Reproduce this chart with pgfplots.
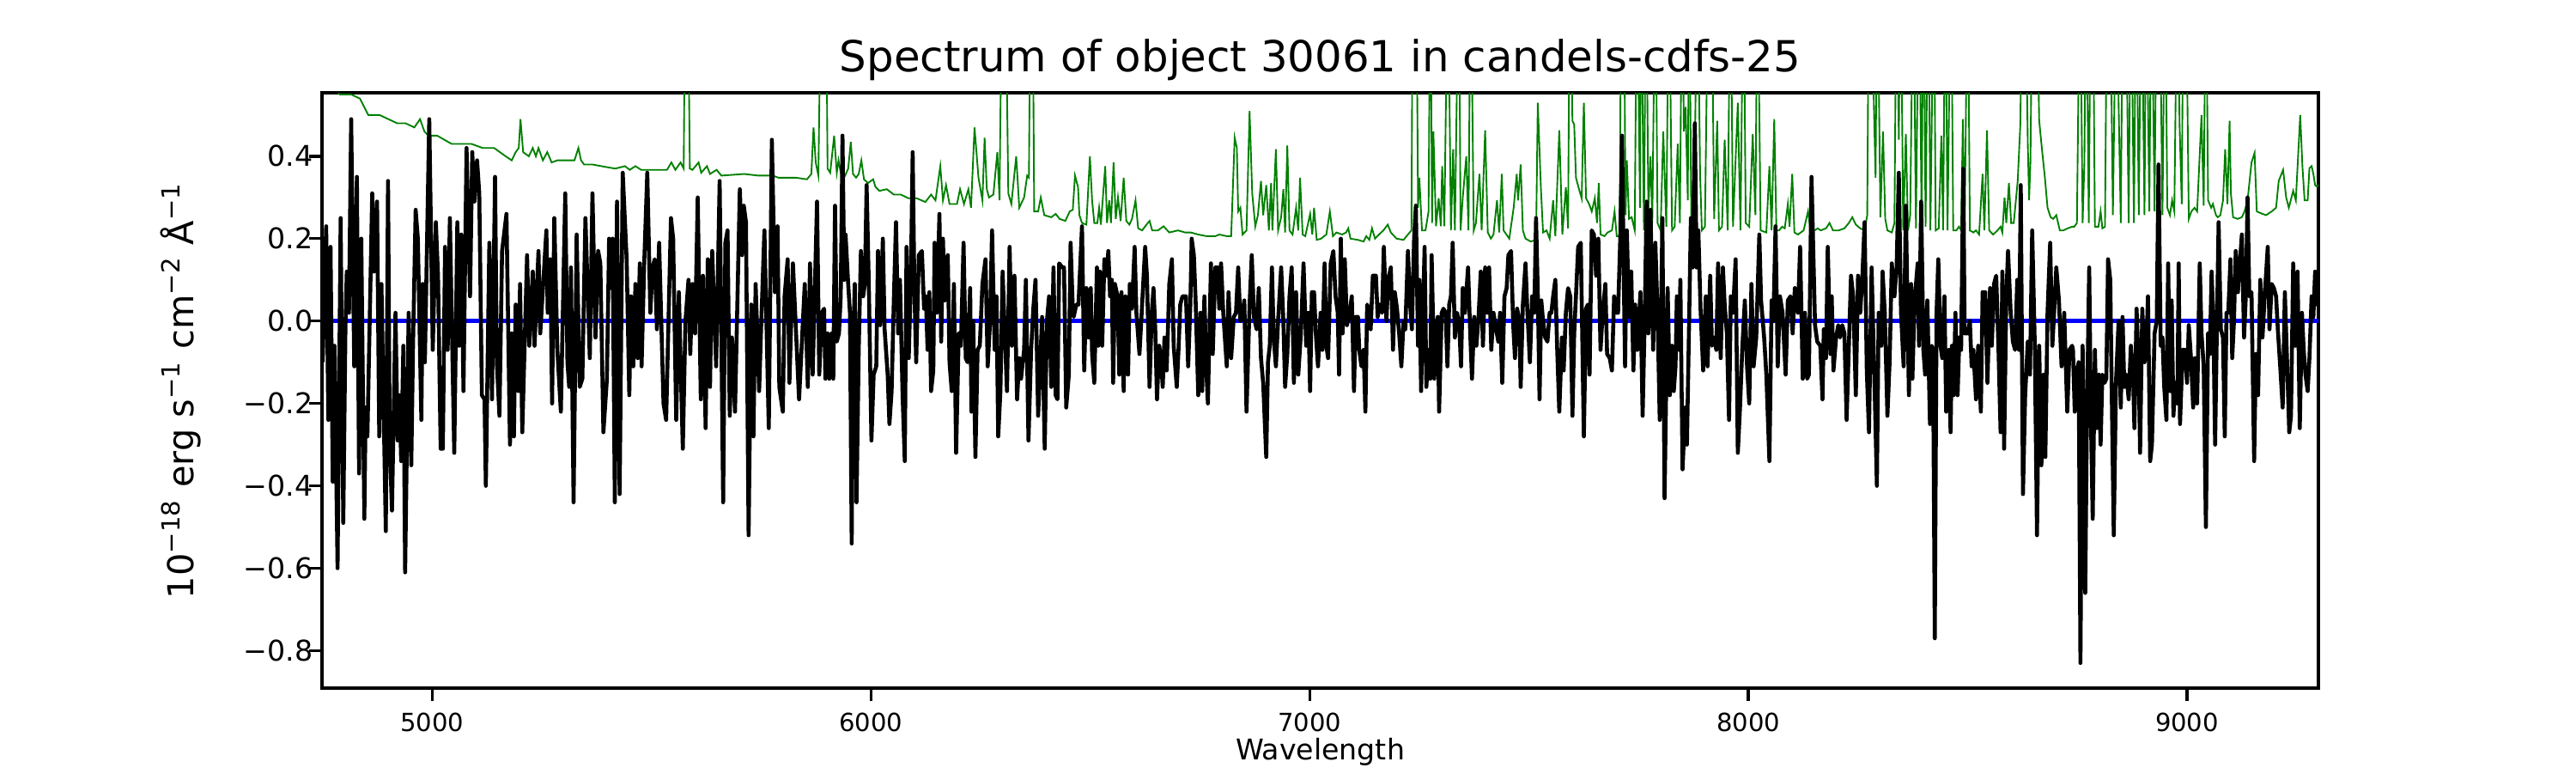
\documentclass[border=0pt]{standalone}
\usepackage{fontspec}
\setmainfont{DejaVu Sans}
\usepackage{pgfplots}
\pgfplotsset{compat=1.18}
\usepackage{pgfplotstable}
\definecolor{mplgreen}{HTML}{008000}
\definecolor{mplblue}{HTML}{0000FF}

\pgfplotstableread{
lam flux
4750 -0.10
4758 0.23
4763 -0.24
4768 0.18
4773 -0.39
4777 -0.06
4784 -0.60
4791 0.25
4797 -0.49
4802 -0.01
4805 0.12
4810 0.02
4815 0.49
4822 -0.11
4828 0.35
4833 -0.37
4838 0.20
4845 -0.48
4848 -0.21
4852 -0.28
4863 0.31
4867 0.12
4874 0.29
4879 -0.28
4884 0.09
4894 -0.51
4899 0.34
4903 -0.30
4908 -0.46
4916 0.02
4921 -0.29
4925 -0.18
4929 -0.34
4934 -0.06
4938 -0.61
4946 0.02
4952 -0.35
4956 -0.06
4962 0.27
4967 0.20
4975 -0.24
4978 0.09
4983 -0.10
4993 0.49
5001 -0.07
5008 0.24
5013 0.11
5019 -0.31
5024 -0.31
5029 0.18
5035 -0.07
5040 0.25
5050 -0.32
5057 0.24
5061 -0.06
5066 0.21
5071 -0.17
5078 0.42
5086 0.06
5091 0.41
5096 0.29
5102 0.39
5107 0.31
5113 -0.18
5119 -0.19
5122 -0.40
5130 0.19
5136 -0.19
5143 0.35
5147 -0.10
5153 -0.23
5159 0.17
5169 0.26
5177 -0.30
5181 -0.03
5186 -0.28
5190 0.04
5196 -0.17
5200 0.09
5205 -0.27
5216 0.16
5221 -0.06
5229 0.12
5233 -0.06
5242 0.17
5246 -0.03
5260 0.22
5263 0.02
5269 0.15
5273 -0.20
5278 0.25
5285 -0.07
5293 -0.22
5303 0.31
5308 -0.10
5312 -0.16
5316 0.13
5322 -0.44
5329 0.21
5336 -0.16
5342 -0.14
5349 0.25
5359 -0.09
5365 0.31
5372 -0.04
5378 0.17
5383 0.14
5390 -0.27
5398 -0.14
5403 0.20
5406 0.08
5411 0.20
5416 -0.44
5421 0.29
5427 -0.42
5434 0.36
5443 0.15
5449 -0.18
5453 0.06
5458 -0.11
5463 0.09
5468 -0.09
5473 0.14
5477 -0.11
5483 0.14
5490 0.36
5497 0.02
5502 0.13
5507 0.15
5512 -0.02
5517 0.19
5527 -0.20
5533 -0.24
5544 0.25
5549 0.20
5556 -0.24
5562 0.07
5571 -0.31
5577 0.00
5584 0.10
5588 -0.08
5593 0.09
5599 -0.03
5605 0.30
5612 -0.19
5617 0.11
5623 -0.26
5628 0.15
5633 -0.16
5638 0.17
5647 -0.11
5655 0.34
5663 -0.44
5668 0.19
5673 0.22
5678 -0.23
5683 -0.04
5690 -0.22
5701 0.32
5706 0.16
5710 0.28
5715 0.24
5721 -0.52
5727 0.04
5732 -0.28
5737 0.09
5745 -0.17
5750 0.00
5757 0.22
5767 -0.26
5774 0.44
5781 0.07
5787 0.23
5791 -0.16
5799 -0.22
5803 0.06
5810 0.15
5814 -0.15
5822 0.14
5836 -0.19
5849 0.09
5856 -0.16
5861 0.14
5867 -0.13
5877 0.29
5882 -0.13
5888 0.02
5893 0.03
5896 -0.14
5901 -0.03
5905 -0.14
5910 -0.03
5914 -0.14
5918 0.28
5922 -0.05
5927 -0.03
5931 0.06
5935 0.45
5939 0.10
5942 0.21
5948 0.09
5952 0.02
5956 -0.54
5959 -0.07
5963 0.09
5967 -0.44
5972 -0.07
5977 0.17
5982 0.06
5986 0.09
5990 0.33
5995 0.09
6001 -0.29
6006 -0.13
6012 -0.11
6016 0.17
6021 -0.01
6027 0.20
6031 -0.02
6038 -0.13
6042 -0.25
6047 -0.17
6052 0.05
6057 0.24
6062 -0.03
6066 0.10
6072 -0.18
6077 -0.34
6081 0.18
6086 -0.09
6091 0.11
6095 0.41
6099 0.07
6103 -0.10
6109 0.16
6116 0.17
6121 0.03
6125 0.06
6129 -0.07
6133 0.07
6137 -0.17
6142 -0.12
6145 0.19
6150 0.02
6156 0.26
6160 -0.05
6164 0.20
6168 0.05
6175 0.16
6179 -0.10
6184 -0.17
6189 0.09
6194 -0.32
6200 -0.03
6205 -0.06
6211 0.19
6216 -0.09
6220 -0.10
6226 0.08
6229 -0.22
6233 0.00
6238 -0.33
6243 -0.07
6248 -0.06
6254 0.09
6261 0.15
6266 -0.11
6271 -0.01
6276 0.22
6282 -0.07
6286 0.06
6290 -0.28
6295 -0.17
6300 0.12
6305 -0.03
6310 -0.17
6316 0.18
6321 -0.06
6327 0.11
6333 -0.19
6338 -0.09
6342 -0.14
6349 -0.07
6353 0.10
6359 -0.29
6365 -0.07
6370 0.03
6375 0.10
6381 -0.23
6390 0.01
6396 -0.31
6401 0.00
6406 0.06
6411 -0.16
6416 0.13
6421 -0.18
6425 -0.19
6429 0.14
6436 0.13
6440 0.13
6445 -0.21
6451 -0.13
6455 0.19
6460 0.03
6462 0.01
6468 0.04
6473 0.04
6481 0.23
6486 -0.12
6491 0.08
6496 -0.04
6501 0.08
6504 -0.08
6509 -0.15
6515 0.13
6518 -0.06
6522 0.12
6527 -0.06
6532 0.15
6537 0.11
6541 0.17
6545 0.06
6549 0.10
6552 -0.15
6556 0.09
6562 0.06
6566 -0.13
6571 0.07
6576 -0.17
6580 0.06
6586 -0.13
6590 0.09
6595 0.03
6601 0.18
6605 0.02
6612 -0.08
6618 0.04
6625 0.18
6629 0.11
6635 -0.16
6640 0.02
6644 0.08
6648 -0.02
6652 -0.19
6657 -0.06
6661 -0.09
6665 -0.16
6669 -0.04
6674 -0.12
6680 0.09
6686 0.15
6690 -0.06
6697 -0.16
6701 -0.07
6705 0.04
6710 0.06
6718 0.06
6723 -0.11
6728 0.04
6731 0.20
6736 0.16
6740 0.05
6746 -0.18
6751 0.02
6755 -0.17
6760 0.06
6764 -0.11
6768 -0.20
6775 0.14
6779 -0.08
6785 0.13
6790 0.13
6794 0.03
6798 0.14
6803 0.02
6811 -0.11
6815 0.07
6821 -0.09
6827 0.01
6832 0.02
6837 0.13
6842 0.00
6847 0.02
6851 0.05
6856 -0.22
6863 0.04
6868 0.16
6873 0.01
6879 -0.02
6884 0.08
6889 -0.09
6894 -0.15
6901 -0.33
6905 -0.10
6909 -0.06
6914 0.13
6918 -0.04
6923 -0.11
6928 0.00
6935 0.13
6940 0.00
6944 -0.16
6949 -0.08
6954 0.06
6959 0.13
6964 -0.15
6969 0.07
6974 -0.13
6980 -0.03
6986 0.14
6992 -0.06
6997 0.02
7001 -0.17
7005 0.07
7010 0.07
7014 -0.03
7019 -0.11
7025 0.02
7029 -0.07
7034 0.14
7038 -0.06
7042 -0.09
7048 0.14
7054 0.17
7059 0.06
7064 0.02
7067 -0.13
7071 0.20
7075 -0.03
7080 0.15
7085 -0.01
7091 0.02
7096 0.06
7101 -0.17
7105 0.01
7110 0.01
7113 -0.07
7118 -0.11
7123 -0.07
7127 -0.22
7131 0.04
7136 0.02
7139 -0.02
7144 0.11
7151 0.11
7155 0.01
7160 0.04
7165 0.02
7169 0.18
7175 0.00
7179 0.10
7185 0.13
7190 -0.07
7194 0.07
7199 0.03
7204 -0.03
7209 -0.11
7214 0.00
7218 -0.02
7224 0.17
7229 0.04
7233 -0.02
7238 0.20
7242 0.28
7247 -0.06
7250 0.10
7254 -0.17
7258 0.01
7262 0.18
7266 -0.16
7271 -0.07
7275 -0.14
7278 0.16
7284 -0.14
7288 -0.02
7292 0.01
7295 -0.22
7301 0.02
7305 0.03
7310 0.02
7314 -0.11
7318 0.04
7322 0.06
7326 0.19
7331 -0.04
7336 0.02
7341 -0.01
7345 -0.11
7349 0.08
7354 0.02
7361 0.13
7366 -0.03
7370 -0.14
7375 0.01
7380 -0.06
7385 0.01
7390 0.12
7395 -0.06
7400 0.13
7405 0.02
7409 0.13
7414 -0.07
7419 0.02
7425 -0.02
7430 -0.05
7434 0.02
7439 -0.15
7444 0.06
7449 0.08
7453 0.16
7459 0.17
7464 -0.01
7468 -0.09
7473 0.03
7478 0.00
7481 -0.16
7486 0.04
7492 0.14
7496 0.03
7502 -0.10
7507 0.06
7512 0.02
7516 0.25
7520 0.07
7524 -0.19
7528 0.05
7532 0.00
7537 -0.04
7542 -0.05
7547 0.02
7551 0.02
7555 0.06
7560 0.10
7564 -0.06
7569 -0.22
7575 -0.04
7579 -0.12
7584 0.02
7589 0.08
7594 0.06
7599 -0.23
7603 -0.03
7607 0.06
7612 0.18
7618 0.19
7625 -0.28
7630 0.03
7634 0.04
7638 -0.13
7643 0.22
7648 0.21
7653 0.11
7658 0.20
7663 -0.07
7668 0.02
7674 0.09
7678 -0.08
7684 -0.09
7689 -0.12
7694 0.06
7699 0.02
7703 0.02
7708 0.20
7712 0.45
7716 0.11
7719 -0.11
7723 0.22
7728 0.01
7733 0.12
7738 -0.12
7742 0.04
7747 -0.07
7754 0.07
7759 -0.23
7764 0.02
7768 0.29
7772 -0.03
7777 0.27
7783 -0.07
7788 0.19
7793 0.02
7798 -0.24
7804 0.25
7809 -0.43
7816 0.08
7821 -0.18
7826 -0.06
7830 -0.17
7834 -0.11
7837 0.06
7842 -0.07
7845 0.10
7850 -0.36
7856 -0.21
7860 -0.30
7865 0.00
7869 0.25
7873 0.13
7878 0.48
7882 0.13
7886 0.22
7891 0.03
7897 -0.12
7903 0.06
7907 -0.11
7913 0.11
7917 -0.06
7922 -0.04
7927 -0.07
7931 0.14
7937 -0.09
7942 0.13
7946 0.04
7951 -0.03
7956 -0.24
7960 0.06
7965 0.02
7971 0.15
7976 -0.32
7981 -0.21
7986 -0.07
7992 0.05
7997 -0.11
8002 -0.20
8007 0.09
8012 -0.11
8018 -0.04
8025 0.21
8029 0.05
8036 -0.04
8041 -0.13
8048 -0.34
8053 0.05
8057 0.00
8062 0.23
8067 -0.11
8072 0.06
8078 0.02
8085 -0.13
8090 0.05
8096 0.06
8101 -0.03
8106 0.08
8113 0.02
8118 0.18
8124 -0.14
8129 0.02
8134 -0.14
8138 -0.13
8144 0.35
8152 -0.01
8157 -0.05
8164 -0.06
8169 -0.19
8172 -0.02
8177 -0.09
8181 0.18
8187 -0.08
8190 0.06
8194 -0.12
8200 -0.04
8205 -0.01
8209 -0.04
8214 -0.01
8219 -0.03
8224 -0.24
8230 -0.03
8234 0.11
8239 0.06
8245 -0.18
8250 0.11
8255 0.02
8260 0.11
8265 0.24
8270 -0.12
8275 -0.27
8281 0.13
8288 -0.17
8293 -0.40
8297 0.02
8303 -0.06
8306 0.12
8311 0.02
8317 -0.23
8322 -0.10
8327 0.14
8333 0.06
8338 0.13
8343 0.36
8348 0.02
8354 -0.11
8359 0.28
8363 0.02
8366 -0.18
8371 0.09
8374 -0.14
8379 0.05
8386 0.14
8389 -0.06
8394 0.29
8399 -0.07
8403 -0.13
8408 0.05
8414 -0.25
8418 -0.06
8421 -0.07
8425 -0.77
8429 0.02
8433 0.15
8438 -0.06
8442 -0.09
8447 0.06
8451 -0.22
8457 -0.07
8461 -0.27
8464 -0.06
8468 -0.18
8472 0.02
8477 -0.18
8481 -0.04
8485 -0.07
8490 0.37
8493 -0.03
8500 -0.03
8505 0.00
8509 -0.11
8513 -0.07
8519 -0.19
8524 -0.06
8530 -0.22
8534 0.07
8540 0.07
8545 -0.15
8551 0.08
8555 -0.06
8560 0.09
8565 0.11
8570 -0.06
8575 -0.27
8579 0.12
8583 -0.31
8588 0.06
8592 0.17
8598 0.02
8603 -0.05
8608 -0.07
8613 0.10
8617 -0.07
8621 0.33
8626 -0.42
8631 -0.18
8637 -0.05
8642 -0.13
8647 0.22
8653 -0.06
8658 -0.52
8663 -0.06
8668 -0.35
8673 -0.13
8677 -0.33
8682 0.02
8688 0.19
8693 -0.06
8697 0.02
8702 0.13
8708 0.05
8714 -0.11
8720 0.02
8727 -0.22
8732 -0.07
8738 -0.06
8740 -0.07
8744 -0.22
8749 -0.12
8753 -0.10
8757 -0.83
8762 -0.06
8768 -0.66
8772 -0.21
8777 0.13
8781 -0.24
8785 -0.48
8790 -0.07
8794 -0.26
8799 -0.13
8803 -0.30
8807 -0.13
8812 -0.15
8816 -0.14
8820 0.15
8825 0.10
8829 -0.22
8833 -0.52
8838 -0.15
8844 0.00
8849 -0.21
8853 0.01
8857 -0.16
8862 -0.13
8867 -0.19
8872 -0.06
8877 -0.13
8880 -0.26
8885 0.03
8890 -0.12
8893 -0.32
8898 0.03
8903 -0.10
8907 -0.07
8911 0.06
8916 -0.34
8920 -0.30
8926 -0.03
8931 0.00
8935 0.38
8940 -0.06
8944 -0.04
8948 -0.16
8953 -0.24
8957 0.14
8961 -0.17
8965 0.05
8969 -0.23
8973 -0.15
8978 -0.20
8981 0.14
8984 -0.25
8990 -0.07
8995 -0.07
9000 -0.15
9004 -0.01
9009 -0.09
9014 -0.21
9018 -0.09
9023 -0.20
9029 0.14
9033 -0.03
9038 -0.11
9043 -0.50
9048 -0.03
9052 -0.08
9056 0.12
9060 0.00
9064 -0.30
9068 -0.02
9072 0.24
9077 -0.02
9082 -0.04
9086 -0.28
9090 0.02
9094 0.02
9099 0.15
9103 -0.09
9107 0.00
9111 0.17
9116 0.07
9121 0.15
9125 0.21
9130 -0.04
9134 0.06
9138 0.30
9142 0.06
9147 0.07
9153 -0.34
9157 -0.08
9162 -0.18
9167 0.10
9172 -0.04
9177 0.06
9184 0.18
9188 -0.02
9193 0.09
9198 0.08
9203 0.06
9207 -0.02
9213 -0.12
9218 -0.21
9223 0.07
9229 -0.13
9233 -0.27
9237 -0.23
9242 0.14
9247 -0.06
9252 0.12
9257 -0.26
9262 0.02
9266 -0.07
9270 -0.13
9275 -0.17
9279 -0.09
9284 0.06
9288 0.01
9292 0.12
9296 0.04
9300 0.10
}\fluxtable

\pgfplotstableread{
lam noise
4750 0.62
4770 0.58
4789 0.55
4815 0.55
4835 0.54
4854 0.50
4867 0.50
4880 0.50
4900 0.49
4920 0.48
4939 0.48
4959 0.47
4972 0.49
4982 0.46
4991 0.45
5011 0.45
5044 0.43
5070 0.43
5089 0.43
5115 0.42
5141 0.42
5167 0.40
5181 0.39
5190 0.41
5197 0.42
5201 0.49
5207 0.41
5220 0.40
5229 0.42
5236 0.40
5242 0.42
5252 0.39
5262 0.41
5272 0.385
5285 0.39
5304 0.39
5324 0.39
5333 0.42
5339 0.39
5346 0.38
5365 0.38
5385 0.376
5417 0.37
5439 0.376
5450 0.367
5463 0.376
5476 0.367
5515 0.367
5535 0.367
5545 0.385
5554 0.367
5566 0.385
5573 0.37
5577 0.9
5582 0.9
5587 0.37
5593 0.367
5600 0.376
5607 0.385
5613 0.36
5626 0.376
5633 0.357
5648 0.367
5659 0.353
5711 0.357
5743 0.353
5776 0.353
5789 0.348
5828 0.348
5854 0.344
5864 0.357
5869 0.47
5874 0.385
5880 0.353
5887 0.9
5897 0.9
5901 0.37
5907 0.36
5916 0.45
5922 0.36
5926 0.39
5931 0.36
5941 0.353
5948 0.37
5954 0.435
5959 0.357
5966 0.348
5972 0.357
5978 0.39
5984 0.344
5993 0.335
6005 0.344
6010 0.326
6019 0.316
6036 0.32
6052 0.307
6068 0.307
6085 0.298
6104 0.298
6124 0.289
6137 0.307
6147 0.293
6158 0.376
6164 0.293
6171 0.33
6179 0.284
6196 0.284
6203 0.32
6212 0.284
6222 0.32
6228 0.275
6236 0.47
6245 0.348
6254 0.293
6259 0.445
6264 0.32
6269 0.30
6279 0.307
6288 0.41
6293 0.293
6299 0.9
6306 0.9
6313 0.31
6320 0.284
6331 0.40
6338 0.275
6349 0.30
6356 0.353
6360 0.348
6364 0.9
6368 0.9
6372 0.266
6381 0.266
6387 0.30
6395 0.257
6411 0.252
6421 0.26
6430 0.248
6443 0.243
6453 0.266
6460 0.27
6465 0.353
6472 0.325
6475 0.257
6481 0.238
6491 0.234
6499 0.40
6504 0.293
6509 0.238
6516 0.238
6520 0.275
6524 0.234
6534 0.376
6538 0.238
6543 0.293
6547 0.238
6553 0.385
6558 0.248
6563 0.30
6569 0.243
6576 0.348
6582 0.243
6589 0.234
6595 0.248
6603 0.293
6609 0.225
6618 0.22
6628 0.234
6635 0.243
6641 0.22
6654 0.22
6667 0.23
6680 0.215
6700 0.22
6716 0.215
6729 0.215
6746 0.21
6765 0.206
6785 0.206
6794 0.21
6811 0.206
6821 0.206
6829 0.445
6834 0.42
6837 0.266
6842 0.275
6847 0.21
6856 0.22
6863 0.51
6869 0.31
6876 0.23
6882 0.257
6889 0.34
6894 0.257
6901 0.33
6907 0.22
6912 0.335
6915 0.22
6923 0.417
6928 0.22
6935 0.252
6940 0.32
6944 0.215
6949 0.426
6954 0.22
6961 0.21
6969 0.275
6974 0.22
6978 0.348
6984 0.21
6990 0.206
7001 0.26
7006 0.21
7010 0.275
7016 0.197
7026 0.20
7033 0.206
7038 0.21
7046 0.266
7053 0.206
7061 0.215
7074 0.21
7083 0.215
7088 0.225
7093 0.20
7110 0.197
7123 0.193
7129 0.206
7136 0.197
7142 0.225
7149 0.20
7158 0.21
7168 0.22
7178 0.234
7185 0.215
7198 0.20
7214 0.197
7224 0.21
7232 0.22
7235 0.9
7243 0.9
7247 0.275
7250 0.348
7256 0.22
7264 0.22
7271 0.266
7275 0.9
7279 0.238
7282 0.46
7288 0.23
7294 0.298
7299 0.23
7302 0.376
7307 0.23
7315 0.9
7322 0.22
7327 0.417
7331 0.22
7340 0.9
7344 0.22
7349 0.30
7357 0.40
7362 0.22
7367 0.9
7374 0.22
7379 0.238
7387 0.357
7392 0.22
7400 0.463
7406 0.215
7413 0.20
7419 0.21
7427 0.293
7432 0.215
7438 0.357
7442 0.22
7455 0.20
7465 0.275
7472 0.357
7475 0.293
7481 0.38
7486 0.22
7492 0.20
7504 0.193
7516 0.197
7520 0.53
7527 0.325
7532 0.215
7540 0.22
7547 0.20
7555 0.293
7560 0.206
7569 0.463
7576 0.21
7584 0.325
7589 0.225
7593 0.9
7599 0.486
7603 0.477
7607 0.348
7614 0.32
7620 0.298
7625 0.53
7630 0.298
7637 0.284
7643 0.266
7650 0.298
7655 0.238
7659 0.335
7663 0.21
7672 0.206
7679 0.215
7689 0.22
7695 0.266
7700 0.206
7707 0.206
7710 0.9
7716 0.9
7720 0.257
7723 0.39
7728 0.248
7734 0.252
7741 0.22
7746 0.9
7753 0.275
7755 0.9
7762 0.22
7767 0.9
7772 0.266
7777 0.40
7781 0.238
7788 0.9
7793 0.238
7800 0.22
7806 0.46
7813 0.229
7819 0.9
7826 0.22
7832 0.229
7839 0.43
7844 0.238
7849 0.9
7853 0.46
7857 0.52
7862 0.293
7865 0.9
7870 0.229
7878 0.41
7884 0.9
7890 0.357
7894 0.22
7901 0.229
7909 0.9
7916 0.9
7922 0.248
7929 0.486
7933 0.22
7940 0.229
7946 0.44
7953 0.22
7959 0.9
7965 0.229
7969 0.34
7976 0.53
7982 0.22
7989 0.9
7994 0.238
8002 0.229
8010 0.454
8016 0.257
8021 0.9
8028 0.22
8041 0.215
8048 0.376
8053 0.22
8059 0.49
8064 0.22
8070 0.22
8077 0.229
8083 0.225
8090 0.284
8094 0.229
8100 0.357
8105 0.215
8113 0.21
8126 0.22
8136 0.266
8142 0.22
8151 0.22
8158 0.225
8165 0.22
8177 0.225
8185 0.238
8193 0.22
8206 0.22
8219 0.225
8229 0.238
8237 0.252
8245 0.234
8255 0.225
8265 0.22
8271 0.257
8275 0.9
8281 0.9
8286 0.53
8290 0.348
8294 0.9
8301 0.252
8307 0.46
8312 0.248
8317 0.22
8327 0.215
8333 0.238
8338 0.9
8343 0.44
8347 0.9
8353 0.22
8359 0.454
8364 0.22
8369 0.257
8376 0.9
8382 0.225
8389 0.9
8395 0.229
8399 0.9
8404 0.229
8410 0.9
8415 0.22
8423 0.9
8427 0.22
8434 0.225
8440 0.45
8444 0.22
8449 0.9
8454 0.22
8462 0.9
8467 0.22
8474 0.22
8480 0.229
8485 0.22
8489 0.49
8493 0.22
8500 0.9
8505 0.22
8513 0.215
8519 0.22
8526 0.21
8534 0.357
8538 0.22
8544 0.463
8549 0.22
8558 0.21
8568 0.22
8575 0.229
8579 0.215
8584 0.30
8588 0.238
8594 0.335
8599 0.238
8605 0.238
8614 0.34
8620 0.477
8625 0.9
8631 0.9
8637 0.43
8640 0.293
8643 0.385
8648 0.9
8656 0.9
8663 0.486
8669 0.42
8676 0.348
8682 0.275
8689 0.252
8695 0.248
8702 0.257
8710 0.22
8718 0.22
8728 0.225
8738 0.229
8743 0.229
8749 0.238
8756 0.9
8762 0.238
8766 0.385
8770 0.9
8776 0.238
8781 0.9
8785 0.9
8790 0.229
8798 0.229
8803 0.266
8807 0.225
8813 0.229
8818 0.9
8824 0.9
8831 0.257
8839 0.9
8844 0.53
8849 0.238
8854 0.9
8860 0.9
8867 0.238
8872 0.9
8879 0.238
8884 0.9
8890 0.257
8896 0.9
8903 0.257
8907 0.9
8914 0.266
8919 0.9
8926 0.266
8931 0.9
8937 0.9
8944 0.257
8950 0.9
8955 0.275
8961 0.257
8966 0.293
8971 0.266
8978 0.9
8983 0.477
8988 0.284
8992 0.9
8997 0.9
9004 0.248
9010 0.266
9017 0.275
9023 0.266
9033 0.50
9038 0.28
9043 0.9
9048 0.293
9055 0.275
9059 0.284
9066 0.257
9070 0.252
9076 0.257
9082 0.293
9087 0.417
9092 0.284
9097 0.486
9100 0.31
9105 0.252
9115 0.248
9125 0.252
9131 0.266
9138 0.293
9147 0.385
9154 0.408
9159 0.266
9170 0.261
9180 0.257
9193 0.266
9203 0.275
9209 0.34
9219 0.367
9226 0.30
9232 0.275
9242 0.316
9248 0.293
9258 0.50
9263 0.376
9268 0.293
9275 0.293
9279 0.371
9284 0.376
9288 0.357
9292 0.33
9296 0.326
9300 0.33
}\noisetable

\begin{document}
\begin{tikzpicture}
\useasboundingbox (0,0) rectangle (720bp,216bp);
\begin{axis}[
  at={(90bp,23.76bp)}, anchor=south west,
  scale only axis, width=558bp, height=166.32bp,
  xmin=4748.5, xmax=9299.5, ymin=-0.891, ymax=0.554,
  axis line style={line width=0.8bp},
  tick style={line width=0.8bp, black},
  tick align=outside, major tick length=3.5bp,
  xtick pos=bottom, ytick pos=left,
  xtick={5000,6000,7000,8000,9000},
  xticklabels={5000,6000,7000,8000,9000},
  ytick={-0.8,-0.6,-0.4,-0.2,0,0.2,0.4},
  yticklabels={−0.8,−0.6,−0.4,−0.2,0.0,0.2,0.4},
  xticklabel style={font=\fontsize{7}{8}\selectfont},
  yticklabel style={font=\fontsize{8}{9}\selectfont, xshift=4.5bp},
  title={Spectrum of object 30061 in candels-cdfs-25},
  title style={font=\fontsize{12}{14}\selectfont, at={(axis description cs:0.5,1)}, anchor=base},
  xlabel={Wavelength},
  xlabel style={font=\fontsize{8}{9}\selectfont, at={(axis description cs:0.5,0)}, anchor=base, yshift=-20bp},
  ylabel={10\textsuperscript{−18} erg s\textsuperscript{−1} cm\textsuperscript{−2} Å\textsuperscript{−1}},
  ylabel style={font=\fontsize{10}{12}\selectfont, at={(axis description cs:-0.0645,0.5)}, anchor=base},
  clip=true,
]
\addplot[mplgreen, line width=0.45bp] table[x=lam,y=noise] {\noisetable};
\addplot[mplblue, line width=1.1bp] coordinates {(4748.5,0) (9299.5,0)};
\addplot[black, line width=1.1bp, line join=round] table[x=lam,y=flux] {\fluxtable};
\end{axis}
\end{tikzpicture}
\end{document}
